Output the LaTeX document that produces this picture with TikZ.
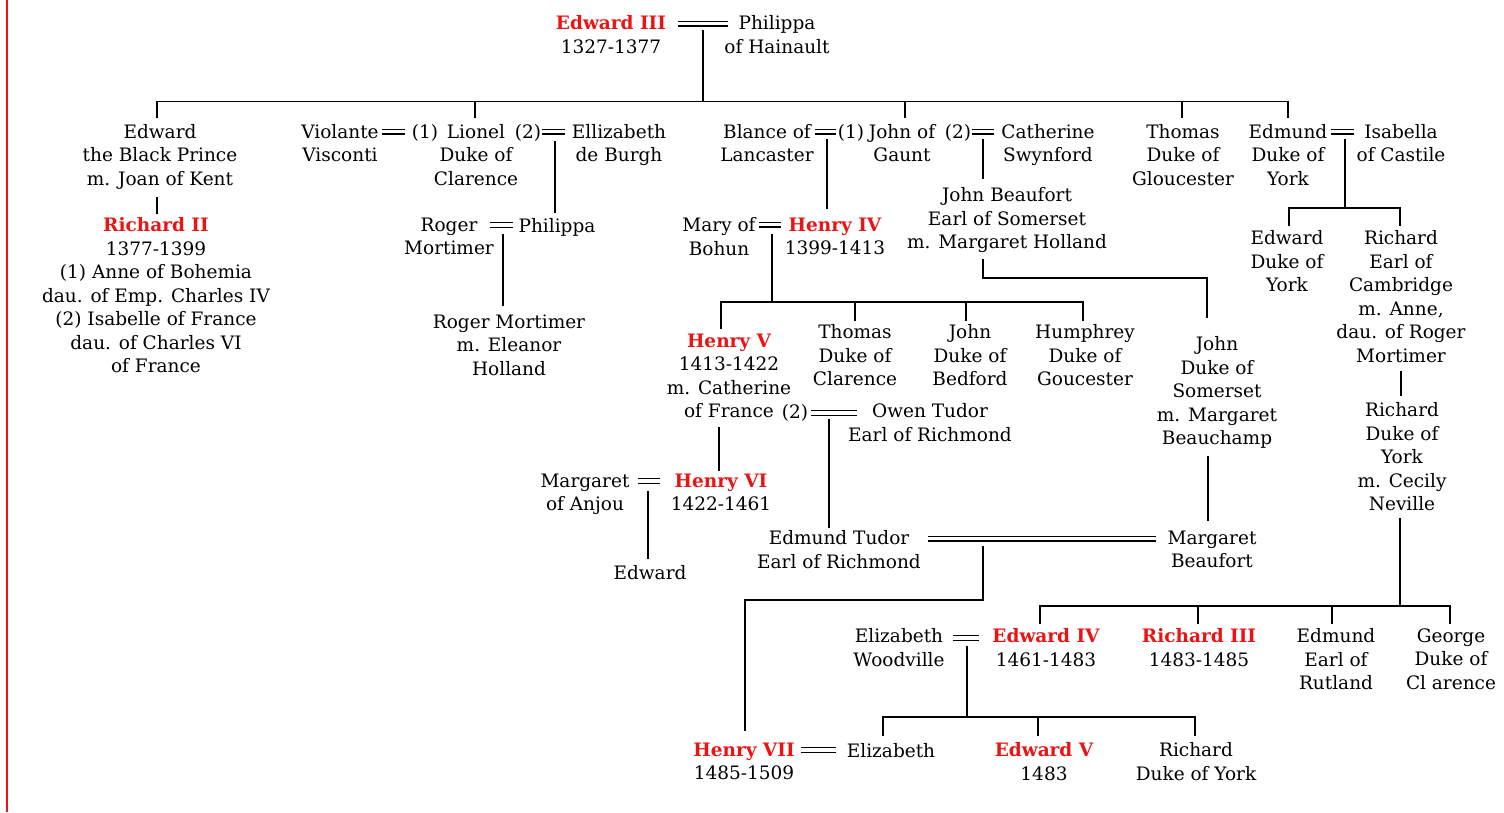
\documentclass[tikz,border=0pt]{standalone}
\usepackage{fontspec}
\setmainfont{DejaVu Serif}
\definecolor{kred}{RGB}{235,20,20}
\newcommand{\fs}{\fontsize{18.5}{23.5}\selectfont}
\newcommand{\kg}[1]{{\bfseries\color{kred}#1}}
\begin{document}
\begin{tikzpicture}[x=1pt,y=-1pt,
  person/.style={align=center, inner sep=0pt, anchor=north, yshift=14.6pt,
    font=\fs, execute at begin node=\strut},
  single/.style={person, yshift=2pt},
  tie/.style={double, double distance=3.2pt, line width=1.4pt},
  lin/.style={line width=1.4pt, line cap=rect}]
\useasboundingbox (0,0) rectangle (1504,812);
\fill[white] (0,0) rectangle (1504,812);
\draw[kred, line width=2pt] (7,0) -- (7,812);

% generation 0
\node[person] (e3) at (611,30) {\kg{Edward III}\\1327-1377};
\node[person] (phil) at (777,30) {Philippa\\of Hainault};
\draw[tie] (678,23.5) -- (728,23.5);
\draw[lin] (703,31) -- (703,101.5);
\draw[lin] (157,117) -- (157,101.5) -- (1288,101.5) -- (1288,117);
\draw[lin] (475,101.5) -- (475,117);
\draw[lin] (905,101.5) -- (905,117);
\draw[lin] (1182,101.5) -- (1182,117);

% generation 1
\node[person] (bp) at (160,138.5) {Edward\\the Black Prince\\m. Joan of Kent};
\node[person] (vio) at (340,138.5) {Violante\\Visconti};
\node[single] (lio1) at (425,138.5) {(1)};
\node[person] (lio) at (476,138.5) {Lionel\\Duke of\\Clarence};
\node[single] (lio2) at (528,138.5) {(2)};
\node[person] (eliz) at (619,138.5) {Ellizabeth\\de Burgh};
\draw[tie] (382,131.5) -- (405,131.5);
\draw[tie] (542,131.5) -- (565,131.5);
\draw[lin] (555,142) -- (555,212);

\node[person] (bla) at (767,138.5) {Blance of\\Lancaster};
\node[single] (jg1) at (851,138.5) {(1)};
\node[person] (jg) at (902,138.5) {John of\\Gaunt};
\node[single] (jg2) at (958,138.5) {(2)};
\node[person] (cat) at (1048,138.5) {Catherine\\Swynford};
\draw[tie] (815,131.5) -- (836,131.5);
\draw[tie] (972,131.5) -- (994,131.5);
\draw[lin] (827,140) -- (827,208);
\draw[lin] (983,140) -- (983,178);

\node[person] (tho) at (1183,138.5) {Thomas\\Duke of\\Gloucester};
\node[person] (edm) at (1288,138.5) {Edmund\\Duke of\\York};
\node[person] (isa) at (1401,138.5) {Isabella\\of Castile};
\draw[tie] (1331,131.5) -- (1354,131.5);
\draw[lin] (1345,140) -- (1345,208);
\draw[lin] (1289,225) -- (1289,208) -- (1400,208) -- (1400,225);

% generation 2
\draw[lin] (157,198) -- (157,213);
\node[person] (r2) at (156,232) {\kg{Richard II}\\1377-1399\\(1) Anne of Bohemia\\dau. of Emp. Charles IV\\(2) Isabelle of France\\dau. of Charles VI\\of France};

\node[person] (rog) at (449,232) {Roger\\Mortimer};
\node[single] (phi2) at (557,232) {Philippa};
\draw[tie] (490,225) -- (513,225);
\draw[lin] (503,235) -- (503,305);
\node[person] (rm) at (509,329) {Roger Mortimer\\m. Eleanor\\Holland};

\node[person] (mary) at (719,232) {Mary of\\Bohun};
\node[person] (h4) at (835,232) {\kg{Henry IV}\\1399-1413};
\draw[tie] (759,224.5) -- (781,224.5);
\draw[lin] (772,235) -- (772,302);

\node[person] (jb) at (1007,202) {John Beaufort\\Earl of Somerset\\m. Margaret Holland};
\draw[lin] (983,260) -- (983,278) -- (1207,278) -- (1207,317);

\node[person] (edy) at (1287,245) {Edward\\Duke of\\York};
\node[person] (rc) at (1401,245) {Richard\\Earl of\\Cambridge\\m. Anne,\\dau. of Roger\\Mortimer};
\draw[lin] (1401,372) -- (1401,395);
\node[person] (rdy) at (1402,417) {Richard\\Duke of\\York\\m. Cecily\\Neville};

% generation 3
\draw[lin] (721,328) -- (721,302) -- (1083,302) -- (1083,320);
\draw[lin] (855,302) -- (855,320);
\draw[lin] (966,302) -- (966,320);
\node[person] (h5) at (729,348) {\kg{Henry V}\\1413-1422\\m. Catherine\\of France};
\node[person] (thc) at (855,339) {Thomas\\Duke of\\Clarence};
\node[person] (jbed) at (970,339) {John\\Duke of\\Bedford};
\node[person] (hum) at (1085,339) {Humphrey\\Duke of\\Goucester};
\node[single] (cat2) at (795,418) {(2)};
\node[person] (owen) at (930,418) {Owen Tudor\\Earl of Richmond};
\draw[tie] (811,413) -- (857,413);
\draw[lin] (829,420) -- (829,527);
\draw[lin] (719,428) -- (719,470);

\node[person] (jds) at (1217,351) {John\\Duke of\\Somerset\\m. Margaret\\Beauchamp};
\draw[lin] (1208,457) -- (1208,520);

% generation 4
\node[person] (marg) at (585,488) {Margaret\\of Anjou};
\node[person] (h6) at (721,488) {\kg{Henry VI}\\1422-1461};
\draw[tie] (638,481) -- (660,481);
\draw[lin] (648,492) -- (648,558);
\node[single] (edw) at (650,579) {Edward};

\node[person] (et) at (839,545) {Edmund Tudor\\Earl of Richmond};
\node[person] (mb) at (1212,545) {Margaret\\Beaufort};
\draw[tie] (928,538.5) -- (1156,538.5);
\draw[lin] (983,547) -- (983,600) -- (745,600) -- (745,730);

\draw[lin] (1400,519) -- (1400,606);
\draw[lin] (1040,623) -- (1040,606) -- (1450,606) -- (1450,623);
\draw[lin] (1198,606) -- (1198,623);
\draw[lin] (1332,606) -- (1332,623);

% generation 5
\node[person] (ew) at (899,643) {Elizabeth\\Woodville};
\node[person] (e4) at (1046,643) {\kg{Edward IV}\\1461-1483};
\draw[tie] (953,638) -- (979,638);
\node[person] (r3) at (1199,643) {\kg{Richard III}\\1483-1485};
\node[person] (erut) at (1336,643) {Edmund\\Earl of\\Rutland};
\node[person] (geo) at (1451,643) {George\\Duke of\\Cl arence};
\draw[lin] (967,647) -- (967,717);
\draw[lin] (883,735) -- (883,717) -- (1195,717) -- (1195,735);
\draw[lin] (1038,717) -- (1038,735);

% generation 6
\node[person] (h7) at (744,757) {\kg{Henry VII}\\1485-1509};
\draw[tie] (801,750) -- (836,750);
\node[single] (el) at (891,757) {Elizabeth};
\node[person] (e5) at (1044,757) {\kg{Edward V}\\1483};
\node[person] (rdy2) at (1196,757) {Richard\\Duke of York};
\end{tikzpicture}
\end{document}
